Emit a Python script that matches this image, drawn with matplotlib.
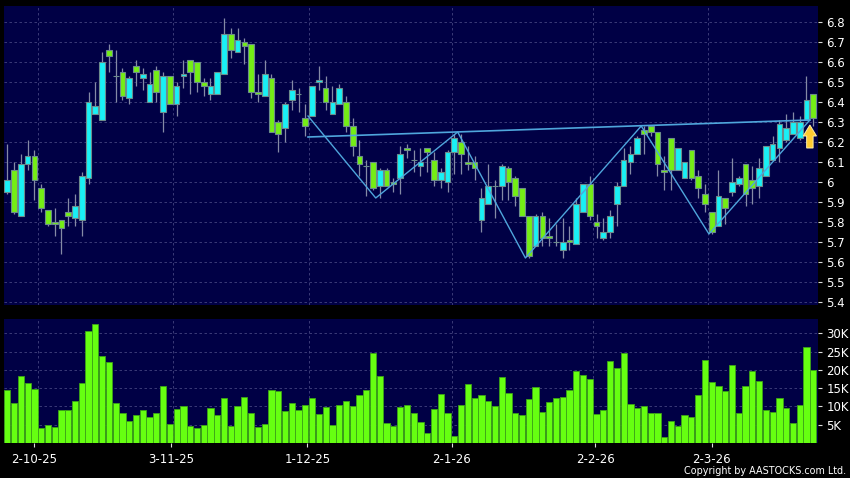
import matplotlib
matplotlib.use("Agg")
import matplotlib.pyplot as plt
from matplotlib.patches import FancyArrow
import numpy as np

body_top = [6.01,6.06,6.09,6.13,6.13,5.97,5.86,5.80,5.81,5.85,5.88,6.03,6.40,6.38,6.60,6.66,6.53,6.55,6.52,6.58,
            6.54,6.49,6.56,6.53,6.53,6.48,6.54,6.61,6.60,6.50,6.48,6.55,6.74,6.74,6.71,6.70,6.69,6.45,6.54,6.52,
            6.30,6.39,6.46,6.44,6.32,6.48,6.51,6.47,6.40,6.47,6.40,6.28,6.13,6.08,6.10,6.06,6.06,6.00,6.14,6.17,
            6.11,6.10,6.17,6.11,6.05,6.15,6.22,6.20,6.10,6.10,5.92,5.98,5.98,6.08,6.07,6.02,5.97,5.83,5.83,5.83,
            5.73,5.70,5.70,5.71,5.89,5.99,5.99,5.80,5.75,5.83,5.98,6.11,6.14,6.22,6.26,6.28,6.25,6.06,6.22,6.17,
            6.10,6.16,6.03,5.94,5.85,5.93,5.92,6.00,6.02,6.09,6.01,6.07,6.18,6.19,6.29,6.27,6.30,6.30,6.41,6.44]
body_bottom = [5.95,5.85,5.83,6.09,6.01,5.87,5.79,5.79,5.77,5.83,5.82,5.81,6.02,6.34,6.31,6.63,6.53,6.43,6.42,6.55,
               6.52,6.40,6.45,6.35,6.39,6.39,6.53,6.55,6.50,6.48,6.44,6.44,6.54,6.66,6.65,6.68,6.45,6.44,6.43,6.25,
               6.24,6.27,6.41,6.44,6.28,6.33,6.50,6.40,6.34,6.39,6.28,6.18,6.09,6.08,5.97,5.98,5.98,5.99,6.02,6.16,
               6.11,6.08,6.15,6.01,6.01,6.00,6.15,6.14,6.09,6.07,5.81,5.89,5.98,5.98,6.00,5.93,5.83,5.63,5.68,5.72,
               5.72,5.70,5.66,5.70,5.69,5.85,5.83,5.78,5.72,5.75,5.89,5.98,6.10,6.14,6.24,6.25,6.09,6.05,6.06,6.06,
               6.02,6.02,5.97,5.89,5.75,5.78,5.87,5.95,5.99,5.94,5.97,5.98,6.03,6.11,6.17,6.21,6.24,6.22,6.31,6.32]
high = [6.19,6.10,6.14,6.21,6.16,5.99,5.86,5.87,5.81,5.92,5.94,6.05,6.45,6.50,6.65,6.69,6.66,6.57,6.53,6.61,
        6.57,6.55,6.58,6.55,6.53,6.50,6.61,6.61,6.60,6.52,6.52,6.55,6.82,6.77,6.77,6.72,6.69,6.54,6.61,6.54,
        6.31,6.40,6.51,6.47,6.39,6.48,6.58,6.53,6.48,6.49,6.43,6.32,6.21,6.11,6.10,6.07,6.07,6.02,6.18,6.19,
        6.16,6.17,6.17,6.15,6.07,6.16,6.24,6.24,6.18,6.13,5.97,6.09,6.01,6.09,6.08,6.03,5.97,5.83,5.84,5.85,
        5.82,5.79,5.82,5.78,5.92,5.99,6.03,5.84,5.82,5.86,6.00,6.17,6.18,6.23,6.28,6.28,6.25,6.13,6.22,6.17,
        6.10,6.16,6.06,5.99,5.85,6.06,5.92,6.12,6.03,6.09,6.08,6.12,6.18,6.23,6.31,6.34,6.35,6.33,6.53,6.44]
low = [5.94,5.84,5.83,6.06,5.91,5.85,5.78,5.73,5.64,5.78,5.78,5.73,5.99,6.34,6.31,6.55,6.40,6.41,6.39,6.48,
       6.46,6.40,6.40,6.25,6.39,6.33,6.47,6.44,6.45,6.43,6.41,6.44,6.54,6.62,6.65,6.59,6.42,6.40,6.43,6.25,
       6.15,6.20,6.36,6.35,6.23,6.33,6.46,6.36,6.34,6.39,6.25,6.13,6.03,5.93,5.96,5.92,5.98,5.95,5.94,6.12,
       6.05,6.03,6.05,5.98,5.97,5.95,6.04,6.04,6.06,6.01,5.75,5.89,5.82,5.91,5.91,5.88,5.83,5.62,5.68,5.68,
       5.68,5.68,5.62,5.66,5.69,5.85,5.81,5.72,5.71,5.72,5.78,5.98,6.04,6.14,6.14,6.23,6.03,5.96,5.96,6.06,
       6.02,6.01,5.92,5.85,5.74,5.78,5.79,5.93,5.98,5.88,5.89,5.92,6.03,6.11,6.10,6.20,6.24,6.21,6.31,6.28]
# True where the candle closed above its open
rising = [1,0,1,1,0,0,0,0,0,0,1,1,1,1,1,0,0,0,1,0,
          1,1,0,1,0,1,1,0,0,0,1,1,1,0,1,0,0,0,1,0,
          0,1,1,0,0,1,1,0,1,1,0,0,0,0,0,1,0,0,1,0,
          0,1,0,0,1,1,1,0,0,0,1,1,0,1,0,0,0,0,1,0,
          0,0,1,0,1,1,0,0,1,1,1,1,1,1,0,0,0,0,0,1,
          1,0,0,0,0,1,0,1,1,0,0,1,1,1,1,1,1,1,1,0]
volume_k = [14.6,10.9,18.2,16.3,14.7,4.1,4.9,4.3,9.0,9.0,11.4,16.5,30.6,32.6,23.8,22.1,10.9,8.1,6.0,7.6,
            9.0,7.2,8.2,15.6,5.1,9.2,10.0,4.6,4.0,4.8,9.7,7.6,12.2,4.7,10.2,12.6,8.1,4.5,5.3,14.5,
            14.1,8.8,10.9,9.0,10.3,12.2,7.9,9.8,5.0,10.3,11.6,10.0,13.2,14.4,24.5,18.2,5.4,4.7,9.9,10.5,
            8.3,5.8,2.6,9.2,13.3,8.1,1.8,10.3,16.2,12.3,13.1,11.6,10.0,18.1,13.6,8.2,7.6,12.0,15.2,8.4,
            11.3,12.2,12.5,14.5,19.7,18.6,17.6,7.8,9.1,22.3,20.5,24.7,10.7,9.5,10.0,8.3,8.3,1.6,5.9,4.6,
            7.6,7.0,13.0,22.7,16.8,15.5,14.3,21.2,8.2,15.6,19.8,17.0,8.9,8.4,12.2,9.5,5.4,10.5,26.2,20.0]
pattern_x = [44.4,54.4,66.5,76.5,93.6,103.6,118.5]
pattern_y = [6.33,5.92,6.25,5.62,6.28,5.74,6.31]
neck_x = [44.4,118.5]
neck_y = [6.225,6.31]
arrow_x = 118.5
arrow_base = 6.17
arrow_tip = 6.285
price_ticks = [5.4,5.5,5.6,5.7,5.8,5.9,6.0,6.1,6.2,6.3,6.4,6.5,6.6,6.7,6.8]
price_labels = ['5.4','5.5','5.6','5.7','5.8','5.9','6','6.1','6.2','6.3','6.4','6.5','6.6','6.7','6.8']
vol_ticks = [5,10,15,20,25,30]
vol_labels = ['5K','10K','15K','20K','25K','30K']
date_pos = [4,24.2,44.3,65.6,86.8,104]
date_grid = [4.5,24.5,44.5,65.6,86.5,103.5]
date_labels = ['2-10-25','3-11-25','1-12-25','2-1-26','2-2-26','2-3-26']

W,H = 850,478
NAVY='#000045'; CYAN='#19F0F5'; GREEN='#74EE15'; EDGE='#6C8C8C'; WICK='#858AA5'; VOL='#66FF11'; VEDGE='#3CA318'
GRID='#44447F'; LINE='#4FA6DC'

fig = plt.figure(figsize=(W/100,H/100),dpi=100,facecolor='black')
def box(l,t,r,b):
    return fig.add_axes([l/W,1-b/H,(r-l)/W,(b-t)/H],facecolor=NAVY)
ax = box(4,6,818,305)
av = box(4,319,818,443)
x = np.arange(len(body_top))
xlim = (-0.487,119.7)
for a in (ax,av):
    a.set_xlim(*xlim)
    for s in a.spines.values(): s.set_visible(False)
    a.set_axisbelow(True)
    a.grid(True,axis='y',color=GRID,lw=0.6,ls=(0,(3,3)))
    for g in date_grid:
        a.axvline(g,color=GRID,lw=0.6,ls=(0,(3,3)),zorder=0.5)
    a.yaxis.tick_right()
    a.tick_params(axis='y',length=3,width=0.8,color='#DDDDDD',labelcolor='white',labelsize=8.5,pad=3)

ax.set_ylim(5.385,6.88)
ax.set_yticks(price_ticks,price_labels)
ax.set_xticks([])
top = np.array(body_top); bot = np.array(body_bottom); ris = np.array(rising,bool)
ax.vlines(x,low,high,color=WICK,lw=0.9,zorder=2)
cols = [CYAN if r else GREEN for r in ris]
ax.bar(x,top-bot,bottom=bot,width=0.84,color=cols,edgecolor=EDGE,linewidth=0.8,zorder=3)
ax.plot(pattern_x,pattern_y,color=LINE,lw=1.0,zorder=4)
ax.plot(neck_x,neck_y,color=LINE,lw=1.2,zorder=4)
ax.add_patch(FancyArrow(arrow_x,arrow_base,0,arrow_tip-arrow_base,width=0.95,head_width=1.95,
                        head_length=0.055,length_includes_head=True,facecolor='#FFCB30',edgecolor='#FFEFA8',lw=0.7,zorder=5))

av.set_ylim(0,33.9)
av.set_yticks(vol_ticks,vol_labels)
av.bar(x,volume_k,width=0.92,color=VOL,edgecolor=VEDGE,linewidth=0.6,zorder=3)
av.set_xticks(date_pos,date_labels)
av.tick_params(axis='x',length=3,width=0.8,color='#DDDDDD',labelcolor='white',labelsize=8.5,pad=4)

fig.text(846/W,1-471/H,'Copyright by AASTOCKS.com Ltd.',color='white',fontsize=6.9,ha='right',va='center')
fig.savefig('out.png',dpi=100,facecolor='black')
